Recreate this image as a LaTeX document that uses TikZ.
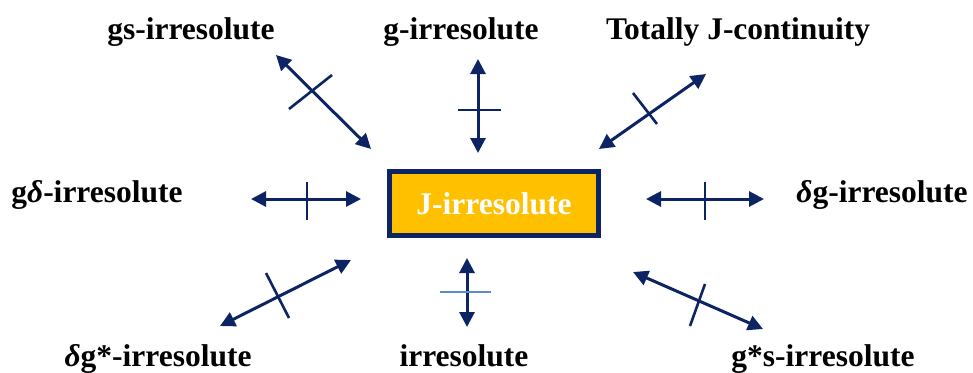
\documentclass[tikz,border=0pt]{standalone}
\usepackage{fontspec}
\setmainfont{Liberation Serif}
\usetikzlibrary{arrows.meta}
\definecolor{navy}{RGB}{12,36,100}
\definecolor{gold}{RGB}{255,192,0}
\definecolor{lightbar}{RGB}{91,140,205}
\begin{document}
\begin{tikzpicture}[x=1pt,y=-1pt,
  lbl/.style={font=\fontsize{31.5}{34}\selectfont\bfseries, anchor=base, inner sep=0pt},
  rel/.style={draw=navy, line width=3pt, {Triangle[length=15pt,width=15pt]}-{Triangle[length=15pt,width=15pt]}},
  bar/.style={draw=navy, line width=2.6pt},
  lbar/.style={draw=lightbar, line width=2.6pt},
  mainbox/.style={draw=navy, fill=gold, line width=5pt, minimum width=209pt, minimum height=64pt, inner sep=0pt,
    text=white, font=\fontsize{31.5}{34}\selectfont\bfseries}]
\useasboundingbox (0,0) rectangle (973,372);
\node[mainbox] (J) at (494,203.5) {J-irresolute};
% labels
\node[lbl] (gs) at (191,39) {gs-irresolute};
\node[lbl] (g) at (461,39) {g-irresolute};
\node[lbl] (tj) at (738,39) {Totally J-continuity};
\node[lbl] (gd) at (97,202) {g\textit{δ}-irresolute};
\node[lbl] (dg) at (882,202) {\textit{δ}g-irresolute};
\node[lbl] (dgs) at (158,366) {\textit{δ}g*-irresolute};
\node[lbl] (ir) at (464,366) {irresolute};
\node[lbl] (gss) at (823,366) {g*s-irresolute};
% arrow end coordinates
\coordinate (a1) at (276,55);  \coordinate (b1) at (371,149);
\coordinate (a2) at (478,59);  \coordinate (b2) at (478,153);
\coordinate (a3) at (599,149); \coordinate (b3) at (706,74);
\coordinate (a4) at (251,199); \coordinate (b4) at (361,199);
\coordinate (a5) at (646,199); \coordinate (b5) at (764,199);
\coordinate (a6) at (220,326); \coordinate (b6) at (351,260);
\coordinate (a7) at (467,258); \coordinate (b7) at (467,327);
\coordinate (a8) at (633,272); \coordinate (b8) at (763,329);
\draw[rel] (a1) -- (b1);
\draw[rel] (a2) -- (b2);
\draw[rel] (a3) -- (b3);
\draw[rel] (a4) -- (b4);
\draw[rel] (a5) -- (b5);
\draw[rel] (a6) -- (b6);
\draw[rel] (a7) -- (b7);
\draw[rel] (a8) -- (b8);
% crossing bars
\coordinate (c1) at (289,109); \coordinate (d1) at (332,75);
\coordinate (c2) at (458,110); \coordinate (d2) at (501,110);
\coordinate (c3) at (633,93);  \coordinate (d3) at (657,124);
\coordinate (c4) at (307,182); \coordinate (d4) at (307,220);
\coordinate (c5) at (705,182); \coordinate (d5) at (705,220);
\coordinate (c6) at (266,273); \coordinate (d6) at (289,318);
\coordinate (c7) at (440,292); \coordinate (d7) at (491,292);
\coordinate (c8) at (705,284); \coordinate (d8) at (690,326);
\draw[bar] (c1) -- (d1);
\draw[bar] (c2) -- (d2);
\draw[bar] (c3) -- (d3);
\draw[bar] (c4) -- (d4);
\draw[bar] (c5) -- (d5);
\draw[bar] (c6) -- (d6);
\draw[lbar] (c7) -- (d7);
\draw[bar] (c8) -- (d8);
\end{tikzpicture}
\end{document}
